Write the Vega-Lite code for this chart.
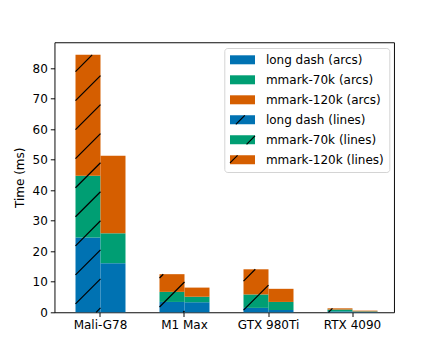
{
  "$schema": "https://vega.github.io/schema/vega-lite/v6.json",
  "width": 339.5,
  "height": 270,
  "autosize": "none",
  "padding": {"left": 54.5, "top": 42.3, "right": 44, "bottom": 38.7},
  "config": {
    "font": "DejaVu Sans",
    "view": {"stroke": "black", "strokeWidth": 0.96}
  },
  "layer": [
    {
      "data": {"values": [
        {"gpu": "Mali-G78", "kind": "lines", "bench": "long dash", "series": "long dash (lines)", "level": 1, "time": 24.5},
        {"gpu": "Mali-G78", "kind": "lines", "bench": "mmark-70k", "series": "mmark-70k (lines)", "level": 2, "time": 20.3},
        {"gpu": "Mali-G78", "kind": "lines", "bench": "mmark-120k", "series": "mmark-120k (lines)", "level": 3, "time": 39.6},
        {"gpu": "Mali-G78", "kind": "arcs", "bench": "long dash", "series": "long dash (arcs)", "level": 1, "time": 16.1},
        {"gpu": "Mali-G78", "kind": "arcs", "bench": "mmark-70k", "series": "mmark-70k (arcs)", "level": 2, "time": 9.8},
        {"gpu": "Mali-G78", "kind": "arcs", "bench": "mmark-120k", "series": "mmark-120k (arcs)", "level": 3, "time": 25.4},
        {"gpu": "M1 Max", "kind": "lines", "bench": "long dash", "series": "long dash (lines)", "level": 1, "time": 3.4},
        {"gpu": "M1 Max", "kind": "lines", "bench": "mmark-70k", "series": "mmark-70k (lines)", "level": 2, "time": 3.3},
        {"gpu": "M1 Max", "kind": "lines", "bench": "mmark-120k", "series": "mmark-120k (lines)", "level": 3, "time": 5.8},
        {"gpu": "M1 Max", "kind": "arcs", "bench": "long dash", "series": "long dash (arcs)", "level": 1, "time": 3.3},
        {"gpu": "M1 Max", "kind": "arcs", "bench": "mmark-70k", "series": "mmark-70k (arcs)", "level": 2, "time": 1.8},
        {"gpu": "M1 Max", "kind": "arcs", "bench": "mmark-120k", "series": "mmark-120k (arcs)", "level": 3, "time": 3.0},
        {"gpu": "GTX 980Ti", "kind": "lines", "bench": "long dash", "series": "long dash (lines)", "level": 1, "time": 1.45},
        {"gpu": "GTX 980Ti", "kind": "lines", "bench": "mmark-70k", "series": "mmark-70k (lines)", "level": 2, "time": 4.4},
        {"gpu": "GTX 980Ti", "kind": "lines", "bench": "mmark-120k", "series": "mmark-120k (lines)", "level": 3, "time": 8.25},
        {"gpu": "GTX 980Ti", "kind": "arcs", "bench": "long dash", "series": "long dash (arcs)", "level": 1, "time": 0.75},
        {"gpu": "GTX 980Ti", "kind": "arcs", "bench": "mmark-70k", "series": "mmark-70k (arcs)", "level": 2, "time": 2.65},
        {"gpu": "GTX 980Ti", "kind": "arcs", "bench": "mmark-120k", "series": "mmark-120k (arcs)", "level": 3, "time": 4.3},
        {"gpu": "RTX 4090", "kind": "lines", "bench": "long dash", "series": "long dash (lines)", "level": 1, "time": 0.3},
        {"gpu": "RTX 4090", "kind": "lines", "bench": "mmark-70k", "series": "mmark-70k (lines)", "level": 2, "time": 0.6},
        {"gpu": "RTX 4090", "kind": "lines", "bench": "mmark-120k", "series": "mmark-120k (lines)", "level": 3, "time": 0.4},
        {"gpu": "RTX 4090", "kind": "arcs", "bench": "long dash", "series": "long dash (arcs)", "level": 1, "time": 0.15},
        {"gpu": "RTX 4090", "kind": "arcs", "bench": "mmark-70k", "series": "mmark-70k (arcs)", "level": 2, "time": 0.15},
        {"gpu": "RTX 4090", "kind": "arcs", "bench": "mmark-120k", "series": "mmark-120k (arcs)", "level": 3, "time": 0.25}
      ]},
      "mark": {"type": "bar"},
      "encoding": {
        "x": {
          "field": "gpu", "type": "nominal",
          "sort": ["Mali-G78", "M1 Max", "GTX 980Ti", "RTX 4090"],
          "scale": {"paddingInner": 0.404762, "paddingOuter": 0.223214, "align": 0.56, "round": false},
          "axis": {"title": null, "labelAngle": 0, "domain": false, "grid": false, "tickSize": 4.2, "tickWidth": 0.96, "tickColor": "black", "labelFontSize": 12, "labelColor": "black", "labelPadding": 3, "labelFont": "DejaVu Sans"}
        },
        "xOffset": {"field": "kind", "type": "nominal", "sort": ["lines", "arcs"], "scale": {"paddingInner": 0, "paddingOuter": 0}},
        "y": {
          "field": "time", "type": "quantitative", "stack": "zero",
          "scale": {"domain": [0, 88.52], "nice": false},
          "axis": {"title": "Time (ms)", "values": [0, 10, 20, 30, 40, 50, 60, 70, 80], "domain": false, "grid": false, "tickSize": 4.2, "tickWidth": 0.96, "tickColor": "black", "labelFontSize": 12, "labelColor": "black", "labelPadding": 3, "labelFont": "DejaVu Sans", "titleFont": "DejaVu Sans", "titleFontSize": 12, "titleFontWeight": "normal", "titleColor": "black", "titlePadding": 6}
        },
        "color": {
          "field": "series", "type": "nominal",
          "scale": {
            "domain": ["long dash (arcs)", "mmark-70k (arcs)", "mmark-120k (arcs)", "long dash (lines)", "mmark-70k (lines)", "mmark-120k (lines)"],
            "range": ["#0072B2", "#009E73", "#D55E00", "#0072B2", "#009E73", "#D55E00"]
          },
          "legend": {
            "title": null, "orient": "none", "legendX": 169.8, "legendY": 5.7,
            "padding": 4.8, "cornerRadius": 3, "strokeColor": "#d4d4d4", "fillColor": "white",
            "symbolSize": 144, "symbolOffset": 6.4, "symbolType": "M-2.0833,-0.75H2.0833V0.75H-2.0833Z",
            "labelFontSize": 12, "labelFont": "DejaVu Sans", "labelColor": "black",
            "labelOffset": 16.4, "rowPadding": 6, "labelLimit": 0,
            "encode": {
              "symbols": {
                "update": {
                  "shape": {"signal": "datum.value === 'long dash (lines)' ? 'M-1.1104,0.75L0.3896,-0.75L2.0833,-0.75L2.0833,0.75L-2.0833,0.75L-2.0833,-0.75L0.3896,-0.75Z' : datum.value === 'mmark-70k (lines)' ? 'M0.6792,0.75L2.0833,-0.6542L2.0833,0.75L-2.0833,0.75L-2.0833,-0.75L2.0833,-0.75L2.0833,-0.6542Z' : datum.value === 'mmark-120k (lines)' ? 'M-2.0833,0.5125L-0.8208,-0.75L2.0833,-0.75L2.0833,0.75L-2.0833,0.75L-2.0833,-0.75L-0.8208,-0.75Z' : 'M-2.0833,-0.75H2.0833V0.75H-2.0833Z'"},
                  "stroke": {"signal": "indexof(datum.value, '(lines)') >= 0 ? 'black' : 'transparent'"},
                  "strokeDash": {"signal": "datum.value === 'long dash (lines)' ? [12.7, 1000] : datum.value === 'mmark-70k (lines)' ? [11.9, 1000] : [10.7, 1000]"},
                  "strokeWidth": {"value": 1.2}
                }
              }
            }
          }
        },
        "order": {"field": "level", "type": "quantitative"}
      }
    },
    {
      "data": {"values": [
        {"u1": -0.297619, "v1": 78.93, "u2": -0.099286, "v2": 84.39},
        {"u1": -0.297619, "v1": 69.41, "u2": 0, "v2": 77.60},
        {"u1": -0.297619, "v1": 59.88, "u2": 0, "v2": 68.08},
        {"u1": -0.297619, "v1": 50.36, "u2": 0, "v2": 58.56},
        {"u1": -0.297619, "v1": 40.84, "u2": 0, "v2": 49.04},
        {"u1": -0.297619, "v1": 31.32, "u2": 0, "v2": 39.52},
        {"u1": -0.297619, "v1": 21.80, "u2": 0, "v2": 30.00},
        {"u1": -0.297619, "v1": 12.28, "u2": 0, "v2": 20.48},
        {"u1": -0.297619, "v1": 2.76, "u2": 0, "v2": 10.96},
        {"u1": -0.052143, "v1": 0, "u2": 0, "v2": 1.44},
        {"u1": 0.702381, "v1": 11.26, "u2": 0.747143, "v2": 12.49},
        {"u1": 0.702381, "v1": 1.74, "u2": 1.0, "v2": 9.93},
        {"u1": 0.985, "v1": 0, "u2": 1.0, "v2": 0.41},
        {"u1": 1.702381, "v1": 10.24, "u2": 1.842619, "v2": 14.10},
        {"u1": 1.702381, "v1": 0.715, "u2": 2.0, "v2": 8.91},
        {"u1": 2.713571, "v1": 0, "u2": 2.761190, "v2": 1.31}
      ]},
      "mark": {"type": "rule", "color": "black", "strokeWidth": 1.2},
      "encoding": {
        "x": {"field": "u1", "type": "quantitative", "scale": {"domain": [-0.547619, 3.494048], "nice": false, "zero": false}, "axis": null},
        "x2": {"field": "u2"},
        "y": {
          "field": "v1", "type": "quantitative",
          "scale": {"domain": [0, 88.52], "nice": false},
          "axis": {"title": "Time (ms)", "values": [0, 10, 20, 30, 40, 50, 60, 70, 80], "domain": false, "grid": false, "tickSize": 4.2, "tickWidth": 0.96, "tickColor": "black", "labelFontSize": 12, "labelColor": "black", "labelPadding": 3, "labelFont": "DejaVu Sans", "titleFont": "DejaVu Sans", "titleFontSize": 12, "titleFontWeight": "normal", "titleColor": "black", "titlePadding": 6}
        },
        "y2": {"field": "v2"}
      }
    }
  ],
  "resolve": {"scale": {"x": "independent"}}
}
